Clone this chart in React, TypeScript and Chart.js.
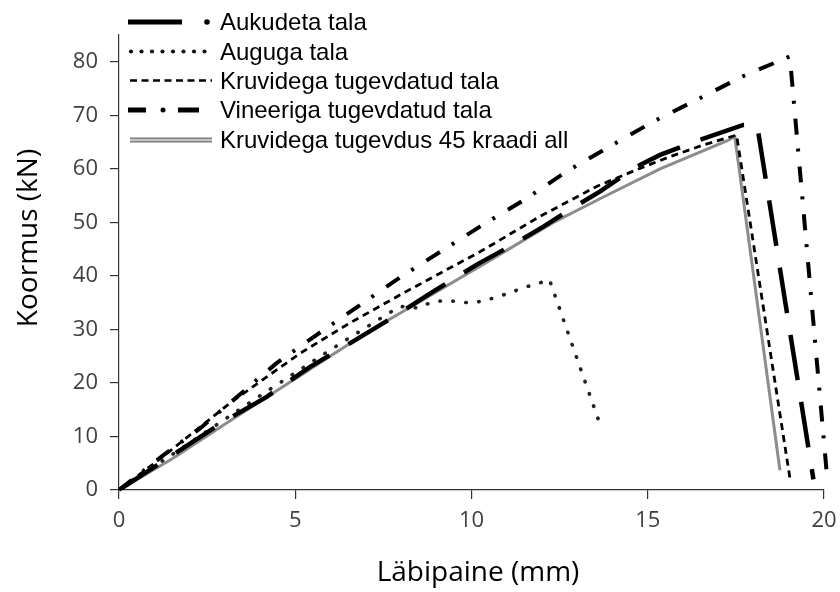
import React, { useEffect, useRef } from 'react';
import { Chart, registerables } from 'chart.js';

Chart.register(...registerables);

// ---- Data ----
const aukudetaX = [0, 1.26, 3.05, 4.19, 5.42, 6.55, 7.88, 8.92, 10.15, 11.0, 12.04, 12.7, 13.65, 14.69, 15.35, 16.48, 17.71, 18.1, 19.7];
const aukudetaY = [0, 5.4, 13.1, 17.4, 23.0, 27.4, 32.7, 37.1, 42.1, 45.2, 49.2, 52.0, 55.8, 60.4, 62.6, 65.4, 68.2, 68.3, 2];

const augugaX = [0, 2, 4, 6, 7.5, 7.97, 8.49, 8.87, 9.25, 9.63, 10.0, 10.38, 10.74, 11.12, 11.47, 11.85, 12.21, 13.65];
const augugaY = [0, 8.8, 17.6, 26.2, 32.4, 34.3, 34.0, 35.1, 35.4, 35.2, 34.9, 35.4, 36.1, 36.9, 37.8, 38.5, 39.3, 12.2];

const kruvidegaX = [0, 1.2, 3.2, 5.13, 6.55, 8.07, 10.24, 11.94, 13.55, 14.6, 15.6, 16.6, 17.52, 19.05];
const kruvidegaY = [0, 6.0, 16.5, 25.5, 31.2, 36.8, 44.5, 51.1, 56.7, 59.6, 62.2, 64.5, 66.3, 1.5];

const vineerigaX = [0, 1.26, 2.3, 4.47, 5.61, 6.74, 7.88, 8.54, 10.24, 11.57, 12.7, 13.93, 15.15, 16.48, 17.7, 19.03, 20.08];
const vineerigaY = [0, 6.5, 11.5, 23.7, 29.0, 34.1, 39.3, 42.1, 49.2, 54.5, 59.5, 64.2, 68.8, 73.2, 77.3, 81.0, 3];

const kraadX = [0, 1.5, 3, 5, 7, 9, 10.5, 12.3, 13.7, 15.35, 17.24, 17.47, 18.75];
const kraadY = [0, 5.8, 12.3, 20.8, 29.3, 37.0, 42.8, 49.9, 54.6, 60.0, 65.2, 66.0, 3.7];

const seriesNames = [
  'Aukudeta tala',
  'Auguga tala',
  'Kruvidega tugevdatud tala',
  'Vineeriga tugevdatud tala',
  'Kruvidega tugevdus 45 kraadi all',
];

const xTitle = 'Läbipaine (mm)';
const yTitle = 'Koormus (kN)';
const xMin = 0, xMax = 20, xStep = 5;
const yMin = 0, yMax = 85, yStep = 10;

const toPts = (xs: number[], ys: number[]) => xs.map((x, i) => ({ x, y: ys[i] }));

const overlay = {
  id: 'overlay',
  afterDraw(chart: any) {
    const ctx: CanvasRenderingContext2D = chart.ctx;
    ctx.save();
    // axis titles
    ctx.fillStyle = '#000';
    ctx.font = '28px "Open Sans"';
    ctx.textAlign = 'center';
    ctx.textBaseline = 'middle';
    ctx.fillText(xTitle, 478, 573);
    ctx.save();
    ctx.translate(29, 238);
    ctx.rotate(-Math.PI / 2);
    ctx.fillText(yTitle, 0, 0);
    ctx.restore();

    // legend
    const rowY = [22, 51.5, 80.5, 110, 140];
    ctx.font = '24px "Liberation Sans", Arial, sans-serif';
    ctx.textAlign = 'left';
    ctx.textBaseline = 'alphabetic';
    seriesNames.forEach((name, i) => {
      ctx.fillStyle = '#000';
      ctx.fillText(name, 220, rowY[i] + 8);
    });
    const dot = (x: number, y: number, r: number, c = '#000') => {
      ctx.beginPath();
      ctx.arc(x, y, r, 0, Math.PI * 2);
      ctx.fillStyle = c;
      ctx.fill();
    };
    const seg = (x1: number, x2: number, y: number, w: number, c: string, dash: number[] = []) => {
      ctx.beginPath();
      ctx.setLineDash(dash);
      ctx.lineWidth = w;
      ctx.strokeStyle = c;
      ctx.lineCap = 'butt';
      ctx.moveTo(x1, y);
      ctx.lineTo(x2, y);
      ctx.stroke();
      ctx.setLineDash([]);
    };
    // 1 Aukudeta
    seg(128, 182, rowY[0], 5, '#000');
    dot(207, rowY[0], 2.8);
    // 2 Auguga
    for (let k = 0; k < 8; k++) dot(131 + k * 10.5, rowY[1], 2.1, '#111');
    // 3 Kruvidega
    seg(130, 212, rowY[2], 2.5, '#000', [7, 4.5]);
    // 4 Vineeriga
    seg(128, 146, rowY[3], 5, '#000');
    dot(163, rowY[3], 2.5);
    seg(178, 199, rowY[3], 5, '#000');
    // 5 gray
    seg(130, 212, rowY[4], 5, '#707070');
    seg(130, 212, rowY[4], 2.4, '#c4c4c4');
    ctx.restore();
  },
};

export default function App() {
  const ref = useRef<HTMLCanvasElement>(null);
  useEffect(() => {
    document.body.style.margin = '0';
    const tickFont = { family: '"Open Sans"', size: 22 };
    const axisColor = '#333';
    const chart = new Chart(ref.current as HTMLCanvasElement, {
      type: 'line',
      data: {
        datasets: [
          {
            label: seriesNames[0],
            data: toPts(aukudetaX, aukudetaY),
            borderColor: '#000',
            borderWidth: 4.5,
            borderDash: [46, 22],
            pointRadius: 0,
            tension: 0,
          },
          {
            label: seriesNames[1],
            data: toPts(augugaX, augugaY),
            borderColor: '#222',
            borderWidth: 3.6,
            borderDash: [0.5, 12.5],
            borderCapStyle: 'round',
            pointRadius: 0,
            tension: 0,
          },
          {
            label: seriesNames[2],
            data: toPts(kruvidegaX, kruvidegaY),
            borderColor: '#000',
            borderWidth: 2.8,
            borderDash: [7, 5],
            pointRadius: 0,
            tension: 0,
          },
          {
            label: seriesNames[3],
            data: toPts(vineerigaX, vineerigaY),
            borderColor: '#000',
            borderWidth: 4,
            borderDash: [16, 14, 3, 15],
            pointRadius: 0,
            tension: 0,
            clip: 10,
          },
          {
            label: seriesNames[4],
            data: toPts(kraadX, kraadY),
            borderColor: '#8c8c8c',
            borderWidth: 3,
            pointRadius: 0,
            tension: 0,
          },
        ] as any,
      },
      options: {
        responsive: false,
        animation: false,
        layout: { padding: { top: 35, right: 16, left: 0, bottom: 0 } },
        plugins: {
          legend: { display: false },
          tooltip: { enabled: false },
        },
        scales: {
          x: {
            type: 'linear',
            min: xMin,
            max: xMax,
            ticks: { stepSize: xStep, font: tickFont, color: '#404040', padding: 9, maxRotation: 0 },
            grid: { drawOnChartArea: false, tickLength: 9, color: axisColor, lineWidth: 1.2 },
            border: { color: axisColor, width: 1.2 },
            afterFit: (s: any) => {
              s.height = 102;
              s.paddingLeft = 0;
              s.paddingRight = 0;
            },
          },
          y: {
            type: 'linear',
            min: yMin,
            max: yMax,
            ticks: { stepSize: yStep, includeBounds: false, font: tickFont, color: '#404040', padding: 12 },
            grid: { drawOnChartArea: false, tickLength: 9, color: axisColor, lineWidth: 1.2 },
            border: { color: axisColor, width: 1.2 },
            afterFit: (s: any) => {
              s.width = 119;
              s.paddingTop = 0;
              s.paddingBottom = 0;
            },
          },
        },
      } as any,
      plugins: [overlay],
    });
    return () => chart.destroy();
  }, []);
  return (
    <div style={{ width: 840, height: 592 }}>
      <canvas ref={ref} width={840} height={592} style={{ display: 'block' }} />
    </div>
  );
}
